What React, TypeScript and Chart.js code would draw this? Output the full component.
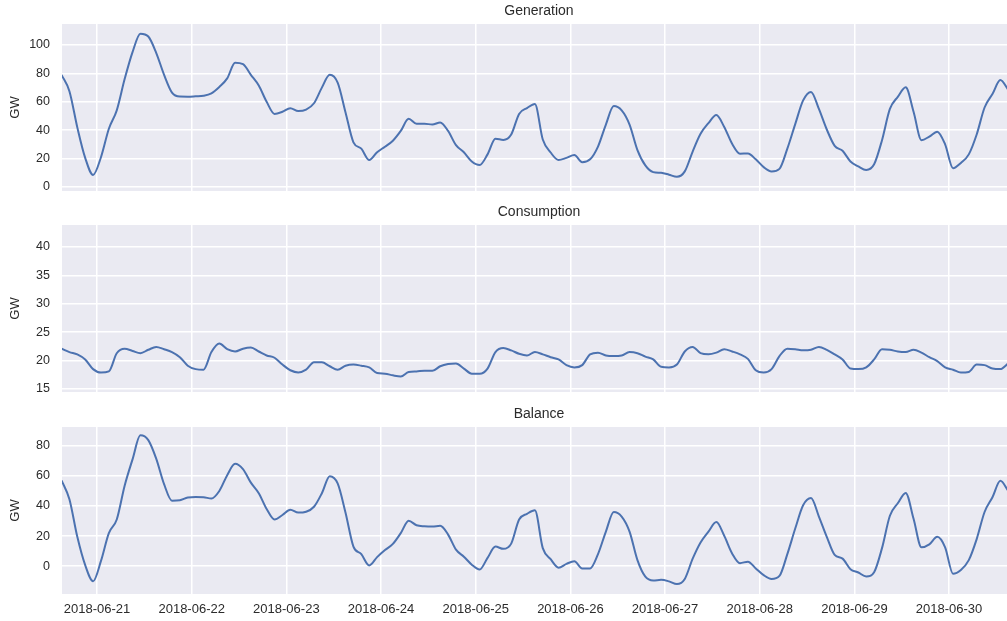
import React, { useEffect, useRef } from 'react';
import { Chart, registerables } from 'chart.js';

Chart.register(...registerables);

// Time grid: 2-hourly samples, expressed in days relative to 2018-06-21 00:00
const startDay = -0.375; // 2018-06-20 15:00
const stepHours = 2;

const dayLabels = [
  '2018-06-21', '2018-06-22', '2018-06-23', '2018-06-24', '2018-06-25',
  '2018-06-26', '2018-06-27', '2018-06-28', '2018-06-29', '2018-06-30',
];

const generation = [
  79, 67.5, 42, 20.5, 8.5, 21, 41, 54, 76, 95,
  108, 106, 94.5, 79, 66.5, 63.7, 63.6, 63.9, 64.3, 66,
  70.5, 76.5, 87.5, 86.5, 79, 71.5, 60, 51.5, 53, 55.5,
  53.5, 54.5, 59, 70, 79, 73.5, 52.5, 31.5, 27, 19,
  24.5, 28.4, 32.6, 39.5, 48, 44.5, 44.6, 44, 45.5, 39.5,
  29.5, 24.5, 18, 15.5, 23, 34, 33.2, 37, 51.5, 55.6,
  58.5, 33.5, 24.3, 19, 20.5, 22.5, 17.5, 19.5, 28.5, 44,
  57, 54, 44, 26, 15.2, 10.5, 10, 8.7, 7.2, 11,
  25, 37.5, 45, 50.7, 42.3, 30.5, 23.5, 23.6, 19.5, 14,
  11, 12.8, 27, 44.3, 61, 67, 55, 40.5, 29, 25.5,
  18, 14.5, 12, 16, 33, 55, 63.5, 70.2, 53, 33,
  35.5, 39, 30, 13.2, 17, 23, 37, 56, 65.5, 75.3,
  68.5,
];

const consumption = [
  22.1, 21.5, 21.1, 20.2, 18.5, 17.9, 18.1, 21.3, 22.1, 21.7,
  21.3, 21.9, 22.4, 22, 21.5, 20.6, 19.1, 18.5, 18.4, 21.5,
  23, 22, 21.6, 22.1, 22.3, 21.6, 20.9, 20.5, 19.3, 18.3,
  17.9, 18.4, 19.7, 19.7, 19, 18.4, 19.1, 19.3, 19.1, 18.8,
  17.8, 17.7, 17.4, 17.2, 18, 18.1, 18.2, 18.2, 19, 19.4,
  19.5, 18.6, 17.7, 17.7, 18.6, 21.5, 22.2, 21.8, 21.2, 20.9,
  21.5, 21.1, 20.6, 20.2, 19.2, 18.8, 19.2, 21.1, 21.4, 20.9,
  20.8, 20.9, 21.5, 21.3, 20.7, 20.2, 18.9, 18.8, 19.3, 21.6,
  22.4, 21.3, 21.1, 21.4, 22, 21.6, 21.1, 20.3, 18.3, 17.9,
  18.5, 20.8, 22.1, 22, 21.8, 21.9, 22.4, 21.9, 21.1, 20.2,
  18.6, 18.5, 18.8, 20.2, 22, 21.9, 21.6, 21.5, 21.9, 21.4,
  20.6, 19.9, 18.8, 18.4, 17.9, 18, 19.3, 19.2, 18.6, 18.5,
  19.5,
];

const balance = [
  57, 44.5, 19.5, 0.7, -10, 3.5, 22, 31, 53.5, 71,
  87, 83.8, 71.5, 54.5, 43.5, 43.8, 45.6, 45.9, 45.8, 45,
  50, 60.5, 68, 64.5, 55.5, 48.5, 38, 31, 34, 37.5,
  35.6, 36.2, 39.5, 48.5, 59.8, 55, 35.5, 13, 8, 0.5,
  6, 10.7, 14.8, 22, 30.2, 27.2, 26.5, 26.3, 26.8, 21,
  11, 6.3, 1, -2.2, 5.5, 13, 11.5, 15, 31, 34.8,
  37.1, 12, 4.6, -1, 1.5, 3.3, -1.5, -1.5, 8, 23,
  36, 33, 23, 4, -7, -9.5, -9.1, -10.1, -11.9, -8.5,
  5, 15.8, 23, 29.3, 20.2, 8.5, 2, 3, -1.5, -6,
  -8.5, -6.5, 8, 25, 40.5, 45.3, 33, 19.5, 7.5, 5,
  -2, -4.2, -6.9, -4, 12, 33.5, 41.8, 48.7, 31.5, 12.5,
  14.5, 19.5, 12.5, -5, -2.5, 4, 18, 36, 45.8, 56.7,
  50,
];

const genTicks = [0, 20, 40, 60, 80, 100];
const consTicks = [15, 20, 25, 30, 35, 40];
const balTicks = [0, 20, 40, 60, 80];

const FONT = "'Liberation Sans', Arial, Helvetica, sans-serif";
const TEXT = '#2b2b2b';
const BG = '#EAEAF2';
const LINE = '#4C72B0';

const bgPlugin = {
  id: 'panelBg',
  beforeDraw(chart: any) {
    const { ctx, chartArea } = chart;
    if (!chartArea) return;
    ctx.save();
    ctx.fillStyle = BG;
    ctx.fillRect(chartArea.left, chartArea.top, chartArea.right - chartArea.left, chartArea.bottom - chartArea.top);
    ctx.restore();
  },
};

type PanelProps = {
  title: string;
  values: number[];
  yMin: number;
  yMax: number;
  yTicks: number[];
  showX: boolean;
  top: number;
  height: number;
};

function Panel({ title, values, yMin, yMax, yTicks, showX, top, height }: PanelProps) {
  const ref = useRef<HTMLCanvasElement | null>(null);

  useEffect(() => {
    if (!ref.current) return;
    const points = values.map((v, i) => ({ x: startDay + (i * stepHours) / 24, y: v }));
    const chart = new Chart(ref.current, {
      type: 'line',
      data: {
        datasets: [
          {
            data: points,
            borderColor: LINE,
            borderWidth: 2,
            pointRadius: 0,
            cubicInterpolationMode: 'monotone',
            fill: false,
          },
        ],
      },
      options: {
        animation: false,
        responsive: false,
        maintainAspectRatio: false,
        layout: { padding: 0 },
        plugins: {
          legend: { display: false },
          tooltip: { enabled: false },
          title: {
            display: true,
            text: title,
            fullSize: false,
            color: TEXT,
            font: { family: FONT, size: 14, weight: 'normal' },
            padding: { top: 3, bottom: 4.2 },
          },
        },
        scales: {
          x: {
            type: 'linear',
            min: -0.37,
            max: 9.707,
            border: { display: false },
            grid: { color: '#ffffff', lineWidth: 1.5, drawTicks: false },
            ticks: {
              display: showX,
              padding: 8,
              autoSkip: false,
              maxRotation: 0,
              color: TEXT,
              font: { family: FONT, size: 13 },
              callback: (_v: any, i: number) => dayLabels[i] ?? '',
            },
            afterBuildTicks: (s: any) => {
              s.ticks = dayLabels.map((_, i) => ({ value: i }));
            },
            afterFit: (s: any) => {
              s.height = showX ? 27 : 0;
              s.paddingLeft = 0;
              s.paddingRight = 0;
            },
          },
          y: {
            min: yMin,
            max: yMax,
            border: { display: false },
            grid: { color: '#ffffff', lineWidth: 1.5, drawTicks: false },
            ticks: {
              padding: 12,
              color: TEXT,
              font: { family: FONT, size: 12.5 },
            },
            title: {
              display: true,
              text: 'GW',
              color: TEXT,
              font: { family: FONT, size: 13 },
              padding: { top: 7.7, bottom: 0 },
            },
            afterBuildTicks: (s: any) => {
              s.ticks = yTicks.map((v) => ({ value: v }));
            },
            afterFit: (s: any) => {
              s.width = 62;
              s.paddingTop = 0;
              s.paddingBottom = 0;
            },
          },
        },
      } as any,
      plugins: [bgPlugin],
    });
    return () => chart.destroy();
  }, [title, values, yMin, yMax, yTicks, showX]);

  return (
    <div style={{ position: 'absolute', left: 0, top, width: 1016, height }}>
      <canvas ref={ref} width={1016} height={height} style={{ display: 'block', width: 1016, height }} />
    </div>
  );
}

export default function App() {
  return (
    <div
      style={{
        position: 'fixed',
        left: 0,
        top: 0,
        width: 1007,
        height: 621,
        overflow: 'hidden',
        background: '#ffffff',
      }}
    >
      <Panel title="Generation" values={generation} yMin={-2.8} yMax={114.8} yTicks={genTicks} showX={false} top={0} height={191} />
      <Panel title="Consumption" values={consumption} yMin={14.47} yMax={43.87} yTicks={consTicks} showX={false} top={201} height={191} />
      <Panel title="Balance" values={balance} yMin={-18.5} yMax={92.5} yTicks={balTicks} showX={true} top={403} height={218} />
    </div>
  );
}
